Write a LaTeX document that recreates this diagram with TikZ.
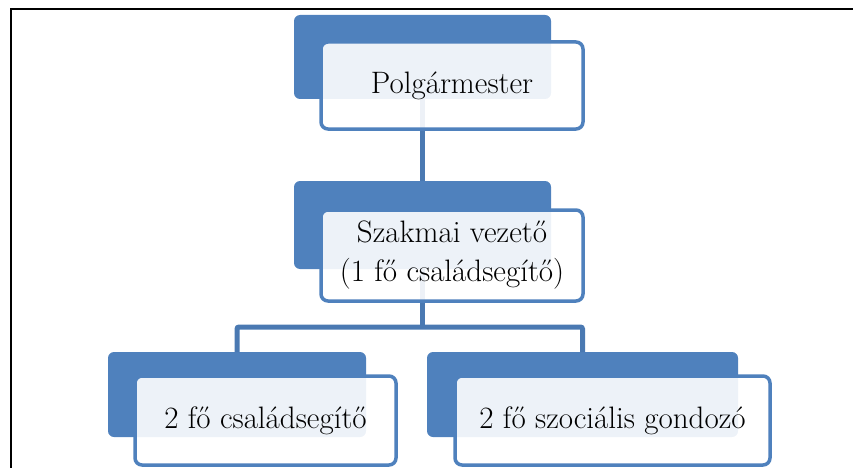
\documentclass[tikz,border=0pt]{standalone}
\usepackage{fontspec}
\usetikzlibrary{positioning,calc}

\definecolor{ofblue}{HTML}{4F81BD}
\definecolor{linkblue}{HTML}{4A79B2}

\tikzset{
  backbox/.style={fill=ofblue, rounded corners=6pt, inner sep=0pt, outer sep=0pt, anchor=north west},
  frontbox/.style={draw=ofblue, line width=3.5pt, fill=white, fill opacity=0.9, text opacity=1,
    rounded corners=7pt, inner sep=0pt, outer sep=0pt, align=center,
    font=\fontsize{31}{39}\selectfont},
  link/.style={draw=linkblue, line width=5pt}
}

\begin{document}
\begin{tikzpicture}[x=1pt,y=-1pt]
\useasboundingbox (0,0) rectangle (853,468);
% keret
\draw[line width=2.5pt] (853,9) -- (11,9) -- (11,468);

% hatso dobozok
\node[backbox, minimum width=257pt, minimum height=84pt] (pback) at (294,15) {};
\node[backbox, minimum width=257pt, minimum height=88pt] (mback) at (294,181) {};
\node[backbox, minimum width=258pt, minimum height=85pt] (lback) at (108,352) {};
\node[backbox, minimum width=311pt, minimum height=85pt] (rback) at (427,352) {};

% osszekotesek
\draw[link] (pback.south) -- (mback.north);
\draw[link] (mback.south) -- ++(0,58) coordinate (bus);
\draw[link, rounded corners=2pt] (lback.north) |- (bus) -| (rback.north);

% elso dobozok
\node[frontbox, minimum width=262pt, minimum height=87pt, below right=27pt and 27pt of pback.north west] (polg) {Polgármester};
\node[frontbox, minimum width=262pt, minimum height=91pt, below right=29pt and 27pt of mback.north west] (szakm) {Szakmai vezető\\(1 fő családsegítő)};
\node[frontbox, minimum width=261pt, minimum height=89pt, below right=24pt and 27pt of lback.north west] (csal) {2 fő családsegítő};
\node[frontbox, minimum width=315pt, minimum height=89pt, below right=24pt and 28pt of rback.north west] (gond) {2 fő szociális gondozó};
\end{tikzpicture}
\end{document}
